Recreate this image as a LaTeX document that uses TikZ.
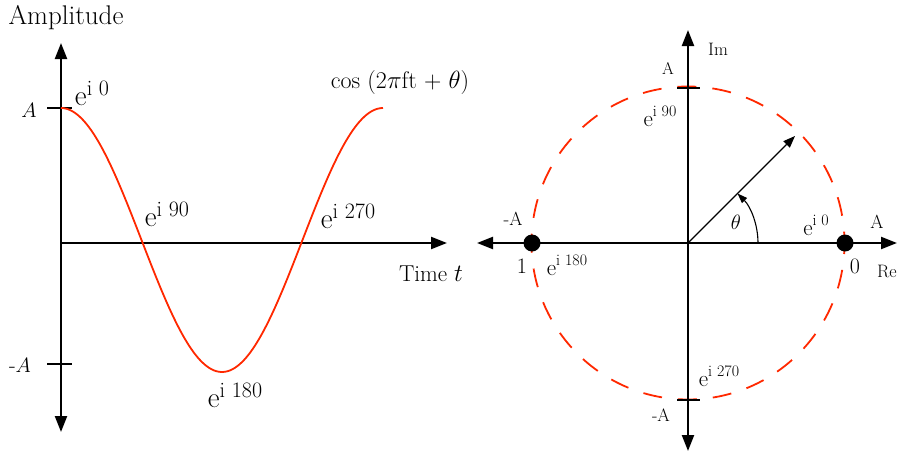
\documentclass[tikz,border=0pt]{standalone}
\usetikzlibrary{arrows.meta}
\definecolor{wred}{RGB}{255,40,0}
\newcommand{\eexp}[4]{{\fontsize{#1}{#1}\selectfont e}\raisebox{#3}{\fontsize{#2}{#2}\selectfont i #4}}
\begin{document}
\begin{tikzpicture}[x=1pt,y=-1pt,
  ax/.style={line width=2.2pt},
  tickline/.style={line width=2pt},
  lbl/.style={inner sep=0pt, outer sep=0pt},
  wave/.style={draw=wred, line width=1.8pt},
  circ/.style={draw=wred, line width=1.8pt, dash pattern=on 19pt off 16pt, dash phase=8pt},
  dot/.style={circle, fill=black, inner sep=0pt, minimum size=17pt},
  thinline/.style={line width=1.1pt}
]
\useasboundingbox (0,0) rectangle (900,453);

% ---------------- left: time plot ----------------
\coordinate (LO) at (61,243);
\coordinate (Ltop) at (61,43);
\coordinate (Lbot) at (61,432);
\coordinate (Lright) at (447,243);
\draw[ax,{Triangle[length=16pt,width=12pt]}-{Triangle[length=16pt,width=12pt]}] (Lbot) -- (Ltop);
\draw[ax,-{Triangle[length=16pt,width=12pt]}] (LO) -- (Lright);
\coordinate (tA1) at (47,108); \coordinate (tA2) at (72,108);
\coordinate (tB1) at (47,364); \coordinate (tB2) at (72,364);
\draw[tickline] (tA1) -- (tA2);
\draw[tickline] (tB1) -- (tB2);
\draw[wave, domain=0:360, samples=140, smooth] plot ({61+0.89444*\x},{240-132*cos(\x)});

\node[lbl, font=\fontsize{27}{27}\selectfont] (amp) at (66,18) {Amplitude};
\node[lbl, font=\fontsize{22}{22}\selectfont] (lA) at (29,110) {$A$};
\node[lbl, font=\fontsize{22}{22}\selectfont] (lmA) at (20,365) {-$A$};
\node[lbl] (le0) at (92,93) {\eexp{29}{22}{10pt}{0}};
\node[lbl] (le90) at (167,214) {\eexp{29}{22}{10pt}{90}};
\node[lbl] (le270) at (348,216) {\eexp{29}{22}{10pt}{270}};
\node[lbl] (le180) at (235,395) {\eexp{29}{22}{10pt}{180}};
\node[lbl, font=\fontsize{24}{24}\selectfont] (cosl) at (400,83) {cos (2$\pi$ft + $\theta$)};
\node[lbl, font=\fontsize{23}{23}\selectfont] (time) at (431,274) {Time $t$};

% ---------------- right: phasor ----------------
\coordinate (O) at (688,243);
\draw[circ] (O) circle[radius=156.5];
\coordinate (Rleft) at (477,243);
\coordinate (Rright) at (897,243);
\coordinate (Rtop) at (688,30);
\coordinate (Rbot) at (688,451);
\draw[ax,{Triangle[length=16pt,width=12pt]}-{Triangle[length=16pt,width=12pt]}] (Rleft) -- (Rright);
\draw[ax,{Triangle[length=16pt,width=12pt]}-{Triangle[length=16pt,width=12pt]}] (Rbot) -- (Rtop);
\coordinate (tT1) at (677,88); \coordinate (tT2) at (700,88);
\coordinate (tD1) at (677,400); \coordinate (tD2) at (700,400);
\draw[tickline] (tT1) -- (tT2);
\draw[tickline] (tD1) -- (tD2);
\node[dot] (p0) at (845,243) {};
\node[dot] (p180) at (532,243) {};
\coordinate (V) at (795,136);
\draw[thinline,-{Triangle[length=12pt,width=9pt]}] (O) -- (V);
\coordinate (arcS) at (758,243);
\draw[thinline,-{Triangle[length=10pt,width=7pt]}] (arcS) arc[start angle=0,end angle=-45,radius=70];

\node[lbl, font=\fontsize{18}{18}\selectfont] (im) at (718,49) {Im};
\node[lbl, font=\fontsize{17}{17}\selectfont] (rA) at (668,68) {A};
\node[lbl] (re90) at (660,116) {\eexp{23}{16}{10pt}{90}};
\node[lbl] (re270) at (719,376) {\eexp{23}{16}{10pt}{270}};
\node[lbl, font=\fontsize{18}{18}\selectfont] (rmA) at (661,415) {-A};
\node[lbl, font=\fontsize{19}{19}\selectfont] (rmA2) at (513,219) {-A};
\node[lbl, font=\fontsize{22}{22}\selectfont] (one) at (522,266) {1};
\node[lbl] (re180) at (567,265) {\eexp{23}{16}{10pt}{180}};
\node[lbl, font=\fontsize{20}{20}\selectfont] (th) at (736,222) {$\theta$};
\node[lbl] (re0) at (816,225) {\eexp{23}{16}{10pt}{0}};
\node[lbl, font=\fontsize{19}{19}\selectfont] (rA2) at (877,222) {A};
\node[lbl, font=\fontsize{22}{22}\selectfont] (zero) at (855,266) {0};
\node[lbl, font=\fontsize{18}{18}\selectfont] (reax) at (887,271) {Re};
\end{tikzpicture}
\end{document}
